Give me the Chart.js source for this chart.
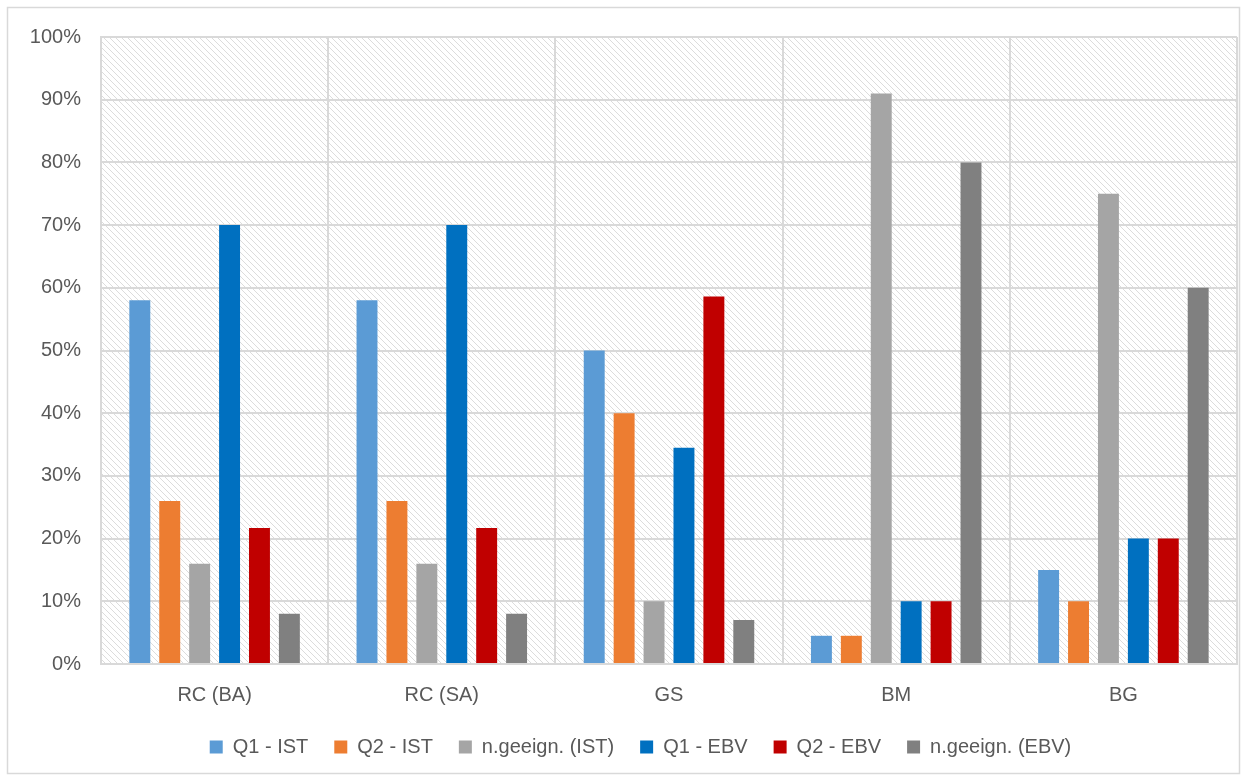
<!DOCTYPE html>
<html lang="de">
<head>
<meta charset="UTF-8">
<title>Q1 / Q2 IST vs EBV</title>
<script src="https://cdn.jsdelivr.net/npm/chart.js@4.4.1/dist/chart.umd.min.js"></script>
<style>
    html, body { margin: 0; padding: 0; background: #fff; }
    #wrap { width: 1247px; height: 781px; }
</style>
</head>
<body>
<div id="wrap"><canvas id="chart" width="1247" height="781"></canvas></div>
<script>
    // data (percent)
    const categories = ['RC (BA)', 'RC (SA)', 'GS', 'BM', 'BG'];
    const seriesNames = ['Q1 - IST', 'Q2 - IST', 'n.geeign. (IST)', 'Q1 - EBV', 'Q2 - EBV', 'n.geeign. (EBV)'];
    const q1Ist = [58, 58, 50, 4.5, 15];
    const q2Ist = [26, 26, 40, 4.5, 10];
    const ngIst = [16, 16, 10, 91, 75];
    const q1Ebv = [70, 70, 34.5, 10, 20];
    const q2Ebv = [21.7, 21.7, 58.6, 10, 20];
    const ngEbv = [8, 8, 7, 80, 60];
    const yTicks = [0, 10, 20, 30, 40, 50, 60, 70, 80, 90, 100];

    const colors = ['#5B9BD5', '#ED7D31', '#A5A5A5', '#0070C0', '#C00000', '#808080'];
    const seriesValues = [q1Ist, q2Ist, ngIst, q1Ebv, q2Ebv, ngEbv];

    const FONT = '"Liberation Sans", Arial, sans-serif';
    const GRID = '#d9d9d9';

    // diagonal hatch fill for the plot area
    function makeHatch() {
        const c = document.createElement('canvas');
        c.width = 6; c.height = 6;
        const g = c.getContext('2d');
        g.fillStyle = '#fff';
        g.fillRect(0, 0, 6, 6);
        g.strokeStyle = '#dcdcdc';
        g.lineWidth = 1;
        g.beginPath();
        g.moveTo(-1, -1); g.lineTo(7, 7);
        g.moveTo(-4, 2); g.lineTo(4, 10);
        g.moveTo(2, -4); g.lineTo(10, 4);
        g.stroke();
        return g.createPattern(c, 'repeat');
    }

    const backdrop = {
        id: 'backdrop',
        afterLayout(chart) {
            // legend in the original sits a little right of the page centre
            chart.legend.left += 22;
            chart.legend.right += 22;
        },
        beforeDraw(chart) {
            const ctx = chart.ctx;
            const a = chart.chartArea;
            ctx.save();
            ctx.fillStyle = '#fff';
            ctx.fillRect(0, 0, chart.width, chart.height);
            ctx.strokeStyle = GRID;
            ctx.lineWidth = 1.5;
            ctx.strokeRect(7.5, 7.5, chart.width - 15, chart.height - 15);
            ctx.fillStyle = makeHatch();
            ctx.fillRect(a.left, a.top, a.right - a.left, a.bottom - a.top);
            ctx.restore();
        }
    };

    new Chart(document.getElementById('chart'), {
        type: 'bar',
        data: {
            labels: categories,
            datasets: seriesNames.map((name, i) => ({
                label: name,
                data: seriesValues[i],
                backgroundColor: colors[i],
                borderWidth: 0,
                barPercentage: 0.7,
                categoryPercentage: 0.79
            }))
        },
        options: {
            responsive: false,
            animation: false,
            layout: { padding: { top: 37, right: 10, bottom: 14, left: 0 } },
            plugins: {
                tooltip: { enabled: false },
                legend: {
                    position: 'bottom',
                    maxHeight: 60,
                    labels: {
                        boxWidth: 13,
                        boxHeight: 13,
                        padding: 26,
                        color: '#595959',
                        font: { family: FONT, size: 20 }
                    }
                }
            },
            scales: {
                x: {
                    afterFit(scale) { scale.height = 47; },
                    grid: { color: GRID, lineWidth: 2, offset: true, drawTicks: false },
                    border: { color: GRID, width: 2 },
                    ticks: { color: '#595959', font: { family: FONT, size: 20 }, padding: 19 }
                },
                y: {
                    min: 0,
                    max: 100,
                    afterFit(scale) { scale.width = 101; },
                    afterBuildTicks(scale) { scale.ticks = yTicks.map(v => ({ value: v })); },
                    grid: { color: GRID, lineWidth: 2, drawTicks: false },
                    border: { color: GRID, width: 2 },
                    ticks: {
                        color: '#595959',
                        font: { family: FONT, size: 20 },
                        padding: 20,
                        callback: v => v + '%'
                    }
                }
            }
        },
        plugins: [backdrop]
    });
</script>
</body>
</html>
